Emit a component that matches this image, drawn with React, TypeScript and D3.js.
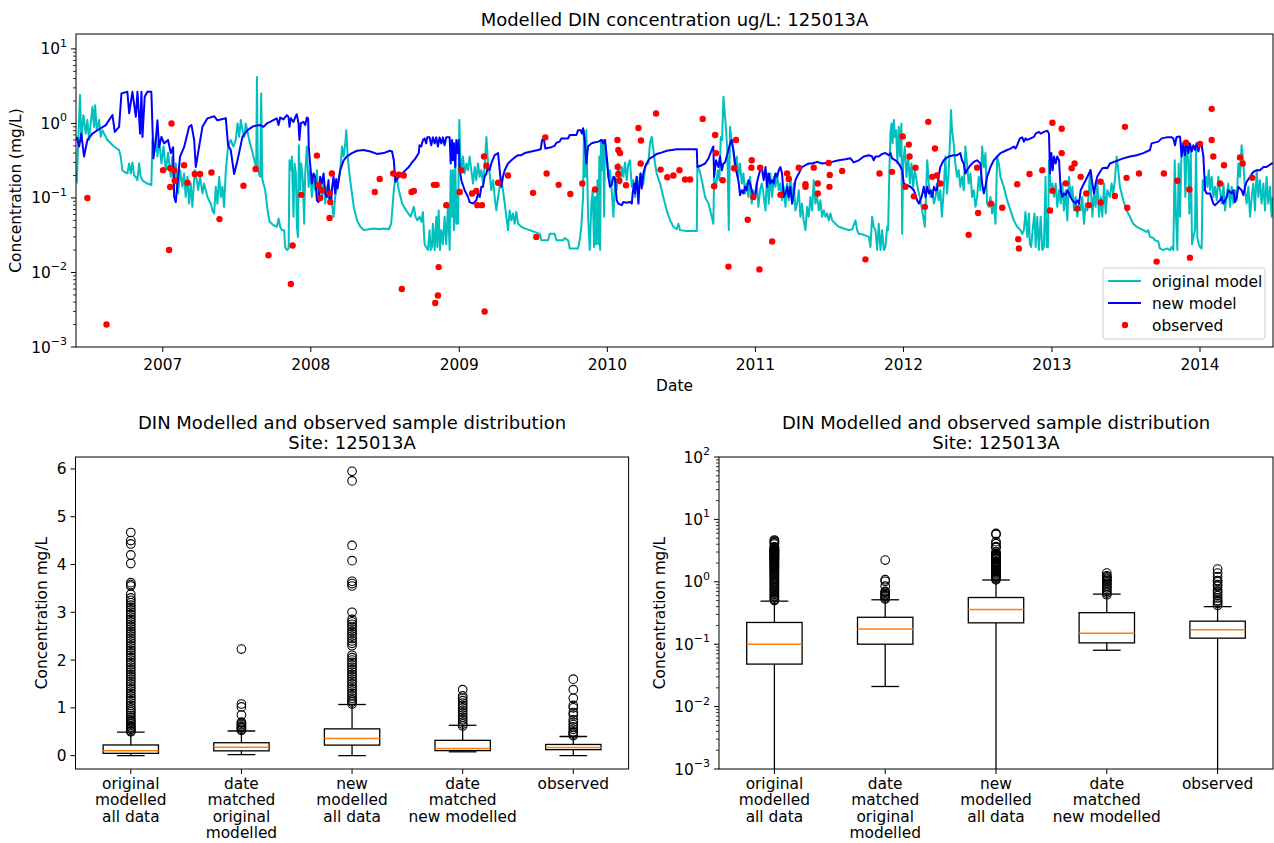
import React from 'react';
import * as d3 from 'd3';

// ---------- DATA (decimal year, mg/L) ----------
const origModel: [number, number][] = [
[2006.419,0.156],[2006.441,2.4],[2006.450,0.60],[2006.464,1.29],[2006.480,0.73],[2006.491,1.11],[2006.502,0.60],[2006.525,1.67],[2006.536,0.90],[2006.543,1.76],[2006.554,0.81],[2006.570,1.11],[2006.581,0.66],[2006.592,0.81],[2006.626,0.60],[2006.671,0.49],[2006.705,0.44],[2006.716,0.36],[2006.727,0.236],[2006.739,0.224],[2006.761,0.213],[2006.773,0.29],[2006.784,0.213],[2006.795,0.30],[2006.806,0.20],[2006.818,0.192],[2006.829,0.173],[2006.840,0.29],[2006.851,0.192],[2006.863,0.173],[2006.874,0.165],[2006.896,0.156],[2006.923,0.149],[2006.930,0.60],[2006.941,0.40],[2006.953,0.66],[2006.964,0.36],[2006.975,0.60],[2006.991,0.29],[2007.005,0.49],[2007.020,0.236],[2007.036,0.40],[2007.054,0.192],[2007.065,0.36],[2007.077,0.141],[2007.088,0.29],[2007.104,0.115],[2007.117,0.236],[2007.133,0.141],[2007.144,0.213],[2007.155,0.103],[2007.167,0.192],[2007.178,0.084],[2007.189,0.156],[2007.200,0.076],[2007.216,0.236],[2007.230,0.173],[2007.239,0.127],[2007.252,0.192],[2007.268,0.115],[2007.279,0.156],[2007.302,0.103],[2007.324,0.084],[2007.336,0.068],[2007.347,0.062],[2007.358,0.141],[2007.369,0.084],[2007.381,0.192],[2007.392,0.103],[2007.403,0.141],[2007.414,0.076],[2007.426,0.236],[2007.441,0.49],[2007.459,0.60],[2007.477,0.49],[2007.493,0.60],[2007.505,1.0],[2007.516,0.66],[2007.527,1.11],[2007.538,0.81],[2007.550,0.66],[2007.561,1.0],
[2007.586,0.57],[2007.602,0.44],[2007.624,0.29],[2007.631,0.236],[2007.636,4.2],[2007.642,0.236],[2007.658,0.192],[2007.665,2.53],[2007.672,0.18],[2007.692,0.127],[2007.708,0.068],[2007.721,0.048],[2007.748,0.043],[2007.771,0.041],[2007.782,0.053],[2007.793,0.041],[2007.804,0.037],[2007.820,0.037],[2007.827,0.022],[2007.838,0.020],[2007.850,0.021],[2007.856,0.32],[2007.865,0.236],[2007.872,0.36],[2007.883,0.056],[2007.890,0.29],[2007.899,0.213],[2007.906,0.041],[2007.913,0.030],[2007.919,0.51],[2007.928,0.127],[2007.935,0.29],[2007.946,0.173],[2007.955,0.045],[2007.962,0.213],[2007.973,0.49],[2007.985,0.141],[2007.996,0.236],[2008.007,0.103],[2008.018,0.192],[2008.029,0.127],[2008.041,0.236],[2008.052,0.093],[2008.063,0.173],[2008.074,0.103],[2008.086,0.156],[2008.097,0.084],[2008.108,0.141],[2008.119,0.103],[2008.131,0.127],[2008.142,0.084],[2008.153,0.056],[2008.164,0.103],[2008.176,0.141],[2008.187,0.173],[2008.198,0.236],[2008.210,0.49],[2008.221,0.36],[2008.232,0.54],[2008.239,0.81],[2008.248,0.36],[2008.262,0.192],[2008.277,0.115],[2008.289,0.076],[2008.311,0.050],[2008.334,0.041],[2008.356,0.037],[2008.390,0.038],[2008.424,0.039],[2008.457,0.038],[2008.491,0.039],[2008.525,0.038],[2008.541,0.045],[2008.559,0.127],[2008.570,0.192],[2008.581,0.173],[2008.593,0.127],[2008.604,0.103],[2008.615,0.084],[2008.627,0.076],[2008.649,0.065],[2008.672,0.056],[2008.683,0.065],[2008.694,0.076],[2008.705,0.056],[2008.717,0.050],
[2008.732,0.056],[2008.744,0.048],[2008.755,0.065],[2008.766,0.024],[2008.777,0.022],[2008.789,0.020],[2008.800,0.037],[2008.807,0.020],[2008.816,0.022],[2008.822,0.045],[2008.834,0.020],[2008.845,0.056],[2008.852,0.022],[2008.861,0.068],[2008.870,0.020],[2008.879,0.037],[2008.890,0.024],[2008.901,0.056],[2008.912,0.024],[2008.924,0.084],[2008.935,0.020],[2008.942,0.236],[2008.951,0.056],[2008.957,0.236],[2008.964,0.037],[2008.973,0.29],[2008.980,0.045],[2008.987,0.127],[2008.991,0.045],[2009.000,1.11],[2009.007,0.36],[2009.014,0.236],[2009.025,0.36],[2009.036,0.213],[2009.048,0.29],[2009.059,0.236],[2009.070,0.36],[2009.081,0.236],[2009.093,0.156],[2009.104,0.26],[2009.115,0.173],[2009.126,0.29],[2009.138,0.192],[2009.149,0.236],[2009.160,0.156],[2009.171,0.26],[2009.183,0.66],[2009.194,0.29],[2009.205,0.213],[2009.216,0.127],[2009.228,0.173],[2009.239,0.103],[2009.250,0.068],[2009.262,0.103],[2009.273,0.141],[2009.284,0.173],[2009.295,0.127],[2009.307,0.084],[2009.318,0.056],[2009.329,0.037],[2009.340,0.068],[2009.352,0.050],[2009.363,0.062],[2009.374,0.045],[2009.385,0.065],[2009.397,0.045],[2009.419,0.041],[2009.442,0.039],[2009.475,0.037],[2009.509,0.035],[2009.543,0.033],[2009.554,0.027],[2009.599,0.027],[2009.611,0.033],[2009.644,0.033],[2009.656,0.027],[2009.701,0.027],[2009.712,0.029],[2009.735,0.027],[2009.746,0.021],[2009.802,0.021],[2009.813,0.027],[2009.824,0.041],[2009.836,0.103],[2009.842,0.81],[2009.851,0.192],[2009.858,0.81],[2009.870,0.056],[2009.881,0.020],[2009.892,0.084],
[2009.901,0.127],[2009.910,0.022],[2009.917,0.103],[2009.924,0.024],[2009.933,0.173],[2009.939,0.024],[2009.946,0.36],[2009.951,0.020],[2009.957,0.60],[2009.964,0.236],[2009.973,0.60],[2009.978,0.056],[2009.984,0.60],[2009.991,0.36],[2010.000,0.29],[2010.007,0.192],[2010.018,0.236],[2010.029,0.127],[2010.041,0.056],[2010.052,0.192],[2010.063,0.127],[2010.074,0.29],[2010.086,0.156],[2010.097,0.26],[2010.108,0.192],[2010.119,0.30],[2010.131,0.173],[2010.142,0.29],[2010.153,0.32],[2010.165,0.141],[2010.176,0.173],[2010.187,0.103],[2010.198,0.192],[2010.210,0.127],[2010.221,0.213],[2010.232,0.141],[2010.243,0.156],[2010.255,0.26],[2010.266,0.29],[2010.277,0.29],[2010.288,0.54],[2010.300,0.66],[2010.311,0.44],[2010.322,0.29],[2010.333,0.213],[2010.356,0.156],[2010.378,0.103],[2010.401,0.068],[2010.424,0.050],[2010.446,0.041],[2010.469,0.038],[2010.480,0.045],[2010.491,0.037],[2010.536,0.036],[2010.604,0.036],[2010.608,0.26],[2010.622,0.236],[2010.638,0.173],[2010.660,0.103],[2010.683,0.084],[2010.705,0.056],[2010.716,0.045],[2010.721,0.192],[2010.734,0.141],[2010.746,0.236],[2010.757,0.173],[2010.766,0.66],[2010.775,0.60],[2010.784,2.28],[2010.795,1.23],[2010.802,0.81],[2010.811,0.40],[2010.820,0.037],[2010.829,0.90],[2010.840,0.54],[2010.851,0.44],[2010.863,0.236],[2010.874,0.36],[2010.885,0.192],[2010.896,0.29],[2010.908,0.156],[2010.919,0.213],[2010.930,0.115],[2010.941,0.156],[2010.953,0.103],[2010.964,0.192],[2010.975,0.084],[2010.986,0.127],[2010.998,0.103],[2011.009,0.156],[2011.020,0.076],[2011.032,0.127],[2011.043,0.156],[2011.054,0.115],
[2011.068,0.068],[2011.079,0.213],[2011.090,0.084],[2011.101,0.213],[2011.113,0.103],[2011.124,0.192],[2011.135,0.141],[2011.146,0.213],[2011.158,0.127],[2011.169,0.156],[2011.180,0.093],[2011.191,0.141],[2011.203,0.076],[2011.214,0.156],[2011.225,0.093],[2011.236,0.192],[2011.248,0.084],[2011.259,0.156],[2011.270,0.068],[2011.281,0.084],[2011.293,0.127],[2011.304,0.056],[2011.315,0.084],[2011.326,0.050],[2011.338,0.037],[2011.349,0.076],[2011.360,0.056],[2011.372,0.103],[2011.383,0.068],[2011.394,0.173],[2011.405,0.084],[2011.417,0.103],[2011.428,0.068],[2011.439,0.093],[2011.450,0.056],[2011.462,0.068],[2011.473,0.056],[2011.484,0.062],[2011.495,0.050],[2011.507,0.062],[2011.518,0.050],[2011.540,0.045],[2011.563,0.041],[2011.597,0.039],[2011.631,0.037],[2011.653,0.038],[2011.676,0.050],[2011.687,0.037],[2011.698,0.033],[2011.732,0.032],[2011.766,0.030],[2011.777,0.022],[2011.788,0.056],[2011.799,0.041],[2011.811,0.037],[2011.822,0.020],[2011.833,0.045],[2011.845,0.020],[2011.856,0.037],[2011.867,0.020],[2011.878,0.022],[2011.890,0.041],[2011.896,0.037],[2011.905,0.236],[2011.912,0.73],[2011.919,1.0],[2011.926,0.54],[2011.935,1.11],[2011.941,0.66],[2011.950,0.81],[2011.959,0.29],[2011.968,0.90],[2011.977,0.36],[2011.986,1.0],[2011.991,0.033],[2011.998,0.29],[2012.009,0.49],[2012.020,0.192],[2012.032,0.36],[2012.043,0.156],[2012.054,0.29],[2012.065,0.141],[2012.077,0.236],[2012.088,0.173],[2012.099,0.127],[2012.110,0.103],[2012.122,0.076],[2012.133,0.056],[2012.144,0.041],[2012.151,0.103],[2012.160,0.32],[2012.171,0.156],[2012.182,0.103],[2012.194,0.127],[2012.205,0.084],[2012.216,0.103],
[2012.225,0.156],[2012.237,0.093],[2012.248,0.127],[2012.259,0.056],[2012.271,0.127],[2012.282,0.36],[2012.293,0.115],[2012.304,0.213],[2012.316,0.81],[2012.320,1.51],[2012.327,0.81],[2012.338,0.54],[2012.349,0.29],[2012.361,0.192],[2012.372,0.236],[2012.383,0.141],[2012.394,0.192],[2012.406,0.127],[2012.417,0.49],[2012.428,0.29],[2012.439,0.156],[2012.451,0.213],[2012.462,0.103],[2012.473,0.127],[2012.485,0.076],[2012.496,0.103],[2012.507,0.192],[2012.518,0.127],[2012.530,0.49],[2012.541,0.26],[2012.552,0.40],[2012.563,0.084],[2012.575,0.076],[2012.586,0.103],[2012.597,0.062],[2012.608,0.084],[2012.620,0.045],[2012.631,0.36],[2012.642,0.29],[2012.653,0.192],[2012.676,0.141],[2012.698,0.093],[2012.721,0.068],[2012.743,0.050],[2012.766,0.041],[2012.788,0.037],[2012.800,0.033],[2012.811,0.037],[2012.822,0.065],[2012.834,0.030],[2012.845,0.062],[2012.851,0.024],[2012.860,0.022],[2012.874,0.045],[2012.883,0.062],[2012.890,0.022],[2012.901,0.056],[2012.912,0.020],[2012.924,0.056],[2012.935,0.020],[2012.946,0.022],[2012.957,0.192],[2012.964,0.022],[2012.973,0.022],[2012.980,0.32],[2012.991,0.141],[2013.003,0.156],[2013.014,0.103],[2013.025,0.156],[2013.036,0.076],[2013.048,0.127],[2013.059,0.084],[2013.070,0.156],[2013.081,0.068],[2013.093,0.127],[2013.104,0.050],[2013.115,0.192],[2013.126,0.103],[2013.138,0.141],[2013.149,0.068],[2013.160,0.103],[2013.171,0.056],[2013.183,0.084],[2013.194,0.068],[2013.205,0.103],[2013.216,0.045],[2013.228,0.084],[2013.239,0.068],[2013.250,0.127],[2013.257,0.236],[2013.266,0.103],[2013.273,0.056],[2013.284,0.115],[2013.295,0.076],[2013.306,0.173],[2013.318,0.056],[2013.329,0.103],[2013.340,0.056],[2013.352,0.156],[2013.363,0.062],[2013.374,0.127],
[2013.392,0.103],[2013.403,0.156],[2013.414,0.115],[2013.425,0.173],[2013.437,0.36],[2013.448,0.236],[2013.459,0.141],[2013.482,0.093],[2013.504,0.068],[2013.527,0.056],[2013.549,0.045],[2013.572,0.041],[2013.594,0.039],[2013.617,0.037],[2013.639,0.035],[2013.651,0.037],[2013.662,0.030],[2013.684,0.029],[2013.696,0.027],[2013.718,0.026],[2013.729,0.021],[2013.752,0.020],[2013.775,0.021],[2013.797,0.020],[2013.809,0.022],[2013.820,0.020],[2013.829,0.32],[2013.838,0.056],[2013.847,0.020],[2013.856,0.29],[2013.865,0.056],[2013.876,0.54],[2013.883,0.44],[2013.892,0.54],[2013.901,0.103],[2013.910,0.54],[2013.921,0.29],[2013.928,0.062],[2013.937,0.49],[2013.946,0.024],[2013.955,0.030],[2013.966,0.037],[2013.973,0.44],[2013.982,0.030],[2013.991,0.024],[2014.000,0.022],[2014.011,0.021],[2014.018,0.173],[2014.027,0.127],[2014.041,0.192],[2014.050,0.141],[2014.059,0.236],[2014.068,0.127],[2014.079,0.192],[2014.090,0.103],[2014.101,0.141],[2014.113,0.093],[2014.124,0.192],[2014.135,0.127],[2014.146,0.084],[2014.158,0.156],[2014.169,0.068],[2014.180,0.103],[2014.191,0.156],[2014.203,0.076],[2014.214,0.141],[2014.225,0.084],[2014.236,0.127],[2014.248,0.093],[2014.259,0.29],[2014.270,0.192],[2014.281,0.51],[2014.293,0.29],[2014.304,0.127],[2014.315,0.084],[2014.327,0.141],[2014.338,0.056],[2014.349,0.103],[2014.360,0.156],[2014.371,0.068],[2014.383,0.236],[2014.394,0.103],[2014.405,0.173],[2014.416,0.084],[2014.428,0.156],[2014.439,0.068],[2014.450,0.192],[2014.461,0.084],[2014.473,0.141],[2014.484,0.056],[2014.491,0.103]
];

const newModel: [number, number][] = [
[2006.419,0.66],[2006.435,0.49],[2006.450,0.73],[2006.468,0.36],[2006.491,0.60],[2006.525,0.73],[2006.559,0.81],[2006.615,0.95],[2006.660,1.30],[2006.676,0.77],[2006.705,0.90],[2006.721,2.53],[2006.761,2.66],[2006.773,1.37],[2006.795,2.66],[2006.818,1.23],[2006.829,2.66],[2006.847,0.73],[2006.856,2.66],[2006.863,0.66],[2006.878,2.28],[2006.896,2.66],[2006.923,2.66],[2006.937,0.34],[2006.953,0.60],[2006.964,1.10],[2006.975,0.48],[2006.991,0.66],[2007.009,0.54],[2007.036,0.60],[2007.054,0.40],[2007.070,0.48],[2007.077,0.103],[2007.088,0.088],[2007.099,0.156],[2007.117,0.36],[2007.144,0.48],[2007.178,0.90],[2007.194,0.95],[2007.212,0.60],[2007.223,0.26],[2007.245,0.48],[2007.268,0.90],[2007.302,1.17],[2007.347,1.25],[2007.369,1.10],[2007.426,1.17],[2007.441,0.51],[2007.459,0.44],[2007.482,0.21],[2007.505,0.32],[2007.538,0.66],[2007.572,0.81],
[2007.590,0.86],[2007.613,0.92],[2007.658,0.95],[2007.680,0.90],[2007.703,1.0],[2007.725,1.05],[2007.770,1.17],[2007.782,0.95],[2007.793,1.2],[2007.815,1.13],[2007.838,1.29],[2007.849,1.23],[2007.856,0.90],[2007.865,1.17],[2007.883,1.05],[2007.894,1.2],[2007.905,1.33],[2007.917,1.0],[2007.923,0.60],[2007.932,1.0],[2007.950,1.05],[2007.962,0.95],[2007.973,1.2],[2007.982,1.17],[2007.986,0.49],[2007.995,0.29],[2008.007,0.156],[2008.018,0.213],[2008.029,0.192],[2008.041,0.093],[2008.052,0.088],[2008.063,0.192],[2008.074,0.156],[2008.086,0.213],[2008.097,0.115],[2008.108,0.103],[2008.119,0.173],[2008.126,0.088],[2008.135,0.084],[2008.144,0.141],[2008.153,0.192],[2008.164,0.115],[2008.171,0.18],[2008.180,0.134],[2008.198,0.236],[2008.221,0.32],[2008.243,0.36],[2008.277,0.40],[2008.311,0.43],[2008.356,0.44],[2008.401,0.42],[2008.446,0.39],[2008.491,0.40],[2008.532,0.43],[2008.547,0.42],[2008.559,0.32],[2008.570,0.165],[2008.592,0.192],[2008.626,0.224],[2008.660,0.26],[2008.682,0.30],[2008.705,0.34],[2008.727,0.40],
[2008.732,0.51],[2008.744,0.49],[2008.755,0.60],[2008.766,0.63],[2008.777,0.54],[2008.784,0.65],[2008.800,0.65],[2008.811,0.51],[2008.822,0.65],[2008.834,0.54],[2008.845,0.65],[2008.856,0.49],[2008.867,0.65],[2008.879,0.54],[2008.890,0.65],[2008.901,0.51],[2008.912,0.65],[2008.935,0.65],[2008.942,0.29],[2008.951,0.60],[2008.957,0.32],[2008.964,0.54],[2008.973,0.26],[2008.980,0.60],[2008.987,0.40],[2008.996,0.60],[2009.003,0.236],[2009.014,0.173],[2009.036,0.127],[2009.059,0.103],[2009.070,0.088],[2009.093,0.084],[2009.115,0.093],[2009.126,0.115],[2009.138,0.103],[2009.149,0.141],[2009.160,0.141],[2009.171,0.192],[2009.183,0.213],[2009.194,0.26],[2009.205,0.236],[2009.216,0.29],[2009.239,0.375],[2009.262,0.40],[2009.273,0.236],[2009.284,0.141],[2009.295,0.192],[2009.307,0.236],[2009.329,0.29],[2009.352,0.32],[2009.374,0.35],[2009.397,0.375],[2009.419,0.375],[2009.442,0.40],[2009.487,0.42],[2009.532,0.44],[2009.550,0.45],[2009.559,0.60],[2009.572,0.60],[2009.581,0.46],[2009.622,0.48],[2009.644,0.50],[2009.656,0.55],[2009.678,0.57],[2009.689,0.63],[2009.735,0.63],[2009.746,0.70],[2009.791,0.70],[2009.802,0.81],[2009.820,0.81],[2009.829,0.73],[2009.836,0.86],[2009.847,0.60],[2009.858,0.29],[2009.870,0.49],[2009.892,0.54],
[2009.905,0.55],[2009.939,0.57],[2009.962,0.60],[2009.973,0.54],[2009.984,0.60],[2009.996,0.36],[2010.007,0.192],[2010.018,0.141],[2010.029,0.149],[2010.041,0.192],[2010.052,0.18],[2010.063,0.093],[2010.074,0.084],[2010.097,0.080],[2010.108,0.088],[2010.131,0.086],[2010.153,0.088],[2010.165,0.084],[2010.171,0.115],[2010.180,0.156],[2010.187,0.115],[2010.198,0.192],[2010.210,0.084],[2010.216,0.141],[2010.225,0.213],[2010.232,0.134],[2010.243,0.213],[2010.255,0.26],[2010.266,0.29],[2010.277,0.32],[2010.288,0.34],[2010.311,0.36],[2010.333,0.39],[2010.356,0.40],[2010.401,0.43],[2010.469,0.45],[2010.536,0.45],[2010.604,0.45],[2010.608,0.26],[2010.638,0.275],[2010.660,0.29],[2010.683,0.34],[2010.705,0.44],[2010.716,0.49],[2010.721,0.192],[2010.734,0.32],[2010.750,0.26],[2010.761,0.36],[2010.773,0.236],[2010.784,0.29],[2010.795,0.30],[2010.806,0.36],[2010.818,0.44],[2010.829,0.54],[2010.840,0.60],[2010.851,0.44],[2010.863,0.29],[2010.874,0.213],[2010.885,0.173],[2010.896,0.109],[2010.908,0.127],[2010.919,0.115],[2010.930,0.141],[2010.941,0.127],[2010.953,0.173],[2010.964,0.156],[2010.975,0.127],[2010.986,0.103],[2010.998,0.103],[2011.009,0.156],[2011.020,0.192],[2011.032,0.236],[2011.043,0.26],
[2011.056,0.173],[2011.068,0.26],[2011.079,0.141],[2011.090,0.213],[2011.101,0.156],[2011.113,0.173],[2011.124,0.156],[2011.135,0.213],[2011.146,0.192],[2011.158,0.236],[2011.169,0.26],[2011.180,0.213],[2011.191,0.103],[2011.203,0.115],[2011.214,0.141],[2011.225,0.103],[2011.236,0.141],[2011.248,0.084],[2011.259,0.115],[2011.270,0.173],[2011.281,0.192],[2011.293,0.213],[2011.304,0.236],[2011.315,0.26],[2011.338,0.275],[2011.360,0.29],[2011.383,0.29],[2011.417,0.305],[2011.450,0.29],[2011.484,0.295],[2011.518,0.305],[2011.563,0.32],[2011.608,0.33],[2011.642,0.34],[2011.664,0.30],[2011.698,0.32],[2011.732,0.36],[2011.766,0.375],[2011.788,0.36],[2011.799,0.32],[2011.811,0.36],[2011.833,0.36],[2011.856,0.39],[2011.878,0.40],[2011.901,0.375],[2011.912,0.40],[2011.923,0.34],[2011.946,0.32],[2011.968,0.29],[2011.991,0.236],[2012.002,0.156],[2012.025,0.149],[2012.047,0.141],[2012.070,0.127],[2012.092,0.093],[2012.104,0.084],[2012.122,0.103],[2012.137,0.141],[2012.149,0.103],[2012.160,0.141],[2012.171,0.115],[2012.182,0.127],[2012.194,0.103],[2012.205,0.141],[2012.216,0.127],
[2012.225,0.127],[2012.237,0.192],[2012.248,0.26],[2012.271,0.32],[2012.304,0.36],[2012.338,0.375],[2012.361,0.375],[2012.383,0.40],[2012.394,0.32],[2012.406,0.29],[2012.417,0.213],[2012.428,0.236],[2012.451,0.275],[2012.473,0.305],[2012.496,0.32],[2012.507,0.305],[2012.518,0.29],[2012.530,0.156],[2012.541,0.115],[2012.552,0.141],[2012.563,0.192],[2012.586,0.26],[2012.608,0.32],[2012.631,0.36],[2012.653,0.40],[2012.687,0.43],[2012.721,0.46],[2012.743,0.49],[2012.755,0.46],[2012.766,0.51],[2012.784,0.63],[2012.800,0.65],[2012.811,0.57],[2012.822,0.63],[2012.834,0.60],[2012.856,0.63],[2012.879,0.66],[2012.890,0.73],[2012.912,0.77],[2012.924,0.73],[2012.946,0.77],[2012.969,0.80],[2012.980,0.73],[2012.987,0.213],[2012.996,0.40],[2013.005,0.236],[2013.014,0.36],[2013.025,0.29],[2013.036,0.36],[2013.048,0.32],[2013.059,0.127],[2013.070,0.103],[2013.081,0.115],[2013.093,0.109],[2013.104,0.127],[2013.115,0.115],[2013.126,0.103],[2013.138,0.093],[2013.149,0.088],[2013.160,0.084],[2013.171,0.093],[2013.183,0.084],[2013.194,0.127],[2013.205,0.141],[2013.216,0.156],[2013.228,0.173],[2013.239,0.192],[2013.250,0.213],[2013.261,0.236],[2013.273,0.156],[2013.284,0.115],[2013.295,0.156],[2013.306,0.192],[2013.318,0.213],[2013.340,0.25],[2013.363,0.255],[2013.374,0.25],
[2013.392,0.29],[2013.437,0.315],[2013.482,0.34],[2013.527,0.36],[2013.572,0.375],[2013.617,0.40],[2013.662,0.44],[2013.673,0.54],[2013.718,0.57],[2013.741,0.63],[2013.775,0.65],[2013.809,0.65],[2013.820,0.63],[2013.831,0.51],[2013.842,0.66],[2013.865,0.67],[2013.876,0.36],[2013.887,0.54],[2013.898,0.375],[2013.910,0.57],[2013.921,0.40],[2013.932,0.54],[2013.944,0.42],[2013.955,0.51],[2013.966,0.44],[2013.977,0.54],[2013.989,0.42],[2014.000,0.54],[2014.011,0.51],[2014.023,0.36],[2014.034,0.127],[2014.045,0.115],[2014.068,0.115],[2014.090,0.084],[2014.101,0.080],[2014.113,0.084],[2014.135,0.093],[2014.146,0.103],[2014.158,0.084],[2014.180,0.103],[2014.191,0.127],[2014.214,0.115],[2014.225,0.127],[2014.236,0.088],[2014.248,0.103],[2014.259,0.141],[2014.281,0.127],[2014.293,0.109],[2014.304,0.141],[2014.315,0.165],[2014.338,0.192],[2014.360,0.224],[2014.383,0.236],[2014.405,0.236],[2014.428,0.26],[2014.450,0.26],[2014.473,0.28],[2014.491,0.295]
];

const observed: [number, number][] = [
[2006.491,0.10],[2006.620,0.002],[2007.002,0.236],[2007.043,0.020],[2007.050,0.25],[2007.050,0.14],[2007.059,1.0],[2007.077,0.236],[2007.081,0.17],[2007.144,0.275],[2007.167,0.16],[2007.216,0.21],[2007.252,0.21],[2007.329,0.22],[2007.383,0.052],[2007.545,0.146],[2007.627,0.245],[2007.714,0.017],[2007.865,0.007],[2007.877,0.023],[2007.935,0.11],[2008.041,0.37],[2008.052,0.148],[2008.063,0.10],[2008.074,0.127],[2008.126,0.115],[2008.131,0.088],[2008.126,0.054],[2008.142,0.213],[2008.431,0.12],[2008.464,0.18],[2008.555,0.213],[2008.593,0.205],[2008.613,0.006],[2008.626,0.20],[2008.678,0.12],[2008.694,0.124],[2008.829,0.15],[2008.838,0.0039],[2008.847,0.15],[2008.856,0.0049],[2008.861,0.0118],[2008.912,0.08],[2009.003,0.12],[2009.014,0.236],[2009.086,0.115],[2009.115,0.124],[2009.122,0.08],[2009.153,0.08],[2009.167,0.36],[2009.171,0.003],[2009.183,0.27],[2009.262,0.16],[2009.329,0.20],[2009.498,0.117],[2009.520,0.03],[2009.581,0.65],[2009.590,0.213],[2009.671,0.15],[2009.750,0.113],[2009.831,0.156],[2009.917,0.13],[2010.068,0.60],[2010.070,0.26],[2010.074,0.44],[2010.074,0.21],[2010.081,0.17],[2010.086,0.40],[2010.126,0.148],[2010.210,0.87],[2010.225,0.29],[2010.227,0.59],[2010.329,1.36],[2010.360,0.24],[2010.405,0.19],[2010.446,0.20],[2010.487,0.236],[2010.525,0.177],[2010.559,0.177],[2010.644,1.15],[2010.721,0.144],[2010.728,0.70],[2010.734,0.40],[2010.779,0.173],[2010.818,0.012],[2010.856,0.25],[2010.869,0.60],[2010.948,0.051],[2010.973,0.255],[2010.975,0.32],[2010.986,0.103],[2011.027,0.011],[2011.032,0.255],[2011.113,0.026],[2011.169,0.11],[2011.214,0.213],[2011.225,0.18],[2011.293,0.255],[2011.338,0.153],[2011.338,0.141],[2011.394,0.255],[2011.421,0.156],[2011.421,0.115],[2011.495,0.295],[2011.500,0.141],[2011.502,0.204],[2011.586,0.23],[2011.743,0.015],[2011.838,0.213],[2011.923,0.224],[2011.995,0.67],[2012.013,0.141],[2012.036,0.52],[2012.041,0.36],[2012.070,0.105],[2012.081,0.255],[2012.144,0.076],[2012.167,1.05],[2012.194,0.192],[2012.212,0.46],[2012.225,0.20],[2012.248,0.156],[2012.439,0.032],[2012.496,0.255],[2012.503,0.063],[2012.590,0.084],[2012.665,0.074],[2012.766,0.153],[2012.773,0.028],[2012.777,0.021],[2012.849,0.21],[2012.935,0.236],[2012.987,0.068],[2013.003,1.02],[2013.003,0.125],[2013.066,0.85],[2013.066,0.40],[2013.093,0.157],[2013.133,0.25],[2013.153,0.29],[2013.171,0.072],[2013.194,0.192],[2013.232,0.115],[2013.250,0.08],[2013.329,0.165],[2013.329,0.087],[2013.425,0.106],[2013.493,0.90],[2013.504,0.186],[2013.509,0.074],[2013.588,0.213],[2013.707,0.014],[2013.756,0.213],[2013.847,0.17],[2013.905,0.55],[2013.928,0.13],[2013.932,0.0158],[2014.000,0.53],[2014.079,1.57],[2014.079,0.60],[2014.090,0.36],[2014.135,0.156],[2014.162,0.275],[2014.270,0.35],[2014.288,0.29],[2014.353,0.186]
];

const yearTicks = [2007, 2008, 2009, 2010, 2011, 2012, 2013, 2014];

// ---------- Box plot data ----------
const boxLabels: string[][] = [
  ['original', 'modelled', 'all data'],
  ['date', 'matched', 'original', 'modelled'],
  ['new', 'modelled', 'all data'],
  ['date', 'matched', 'new modelled'],
  ['observed'],
];
const boxLow = [0, 0.021, 0, 0.08, 0];
const boxQ1 = [0.048, 0.10, 0.22, 0.105, 0.125];
const boxMedian = [0.10, 0.175, 0.36, 0.15, 0.17];
const boxQ3 = [0.223, 0.27, 0.56, 0.32, 0.234];
const boxHigh = [0.49, 0.515, 1.07, 0.635, 0.40];

const fliersOrigAll = [0.5,0.52,0.55,0.58,0.6,0.63,0.66,0.7,0.73,0.76,0.8,0.84,0.88,0.92,0.96,1.0,1.05,1.1,1.15,1.2,1.25,1.3,1.35,1.4,1.45,1.5,1.55,1.6,1.65,1.7,1.75,1.8,1.85,1.9,1.95,2.0,2.05,2.1,2.15,2.2,2.25,2.3,2.35,2.4,2.45,2.5,2.55,2.6,2.65,2.7,2.75,2.8,2.85,2.9,2.95,3.0,3.05,3.1,3.15,3.2,3.25,3.3,3.38,3.55,3.58,3.62,4.02,4.2,4.43,4.5,4.67];
const fliersDateOrig = [0.53,0.55,0.58,0.6,0.62,0.65,0.68,0.7,0.85,1.02,1.08,2.23];
const fliersNewAll = [1.08,1.12,1.16,1.2,1.25,1.3,1.35,1.4,1.45,1.5,1.55,1.6,1.65,1.7,1.75,1.8,1.85,1.9,1.95,2.0,2.05,2.1,2.3,2.35,2.4,2.45,2.5,2.55,2.6,2.65,2.7,2.75,2.8,2.85,3.0,3.55,3.6,3.65,4.08,4.4,5.75,5.95];
const fliersDateNew = [0.62,0.66,0.7,0.75,0.8,0.85,0.9,0.95,1.0,1.05,1.1,1.15,1.2,1.25,1.38];
const fliersObs = [0.42,0.45,0.48,0.5,0.55,0.6,0.65,0.7,0.75,0.85,0.9,1.0,1.05,1.2,1.38,1.6];
const boxFliers = [fliersOrigAll, fliersDateOrig, fliersNewAll, fliersDateNew, fliersObs];

const linearTicks = [0, 1, 2, 3, 4, 5, 6];

// ---------- helpers ----------
const FONT = "'DejaVu Sans', sans-serif";
const FS = 15.4;   // tick / label font size
const FT = 18;     // title font size
const yearToDate = (y: number) => {
  const yr = Math.floor(y);
  const s = Date.UTC(yr, 0, 1);
  const e = Date.UTC(yr + 1, 0, 1);
  return new Date(s + (y - yr) * (e - s));
};
const supText = (e: number) => (e < 0 ? '\u2212' + Math.abs(e) : String(e));

function LogTickLabel({ x, y, e }: { x: number; y: number; e: number }) {
  return (
    <text x={x} y={y + 5.5} textAnchor="end" fontSize={FS} fontFamily={FONT} fill="#000">
      10<tspan dy={-7.5} fontSize={11}>{supText(e)}</tspan>
    </text>
  );
}

function logMinors(lo: number, hi: number) {
  const out: number[] = [];
  for (let k = lo; k <= hi; k++) {
    for (let m = 2; m <= 9; m++) out.push(m * Math.pow(10, k));
  }
  return out;
}

// ---------- Top chart ----------
function TopChart() {
  const L = 76, R = 1273, T = 34, B = 347;
  const x = d3.scaleUtc().domain([yearToDate(2006.414), yearToDate(2014.493)]).range([L, R]);
  const y = d3.scaleLog().domain([1e-3, Math.pow(10, 1.2)]).range([B, T]);
  const line = d3.line<[number, number]>().x(d => x(yearToDate(d[0]))).y(d => y(d[1]));
  const majors = [-3, -2, -1, 0, 1];
  const minors = logMinors(-3, 1).filter(v => v <= Math.pow(10, 1.2));
  return (
    <g>
      <defs>
        <clipPath id="clipTop"><rect x={L} y={T} width={R - L} height={B - T} /></clipPath>
      </defs>
      <text x={(L + R) / 2} y={25.5} textAnchor="middle" fontSize={FT} fontFamily={FONT} fill="#000">
        Modelled DIN concentration ug/L: 125013A
      </text>
      <g clipPath="url(#clipTop)">
        <path d={line(origModel) || ''} fill="none" stroke="#00bfbf" strokeWidth={2} strokeLinejoin="round" />
        <path d={line(newModel) || ''} fill="none" stroke="#0000ff" strokeWidth={2} strokeLinejoin="round" />
        {observed.map((d, i) => (
          <circle key={i} cx={x(yearToDate(d[0]))} cy={y(d[1])} r={3.2} fill="#ff0000" />
        ))}
      </g>
      <rect x={L} y={T} width={R - L} height={B - T} fill="none" stroke="#000" strokeWidth={1} />
      {majors.map(e => (
        <g key={e}>
          <line x1={L - 5} x2={L} y1={y(Math.pow(10, e))} y2={y(Math.pow(10, e))} stroke="#000" />
          <LogTickLabel x={L - 9} y={y(Math.pow(10, e))} e={e} />
        </g>
      ))}
      {minors.map((v, i) => (
        <line key={i} x1={L - 3} x2={L} y1={y(v)} y2={y(v)} stroke="#000" strokeWidth={0.8} />
      ))}
      {yearTicks.map(yr => {
        const px = x(yearToDate(yr));
        return (
          <g key={yr}>
            <line x1={px} x2={px} y1={B} y2={B + 5} stroke="#000" />
            <text x={px} y={B + 23} textAnchor="middle" fontSize={FS} fontFamily={FONT} fill="#000">{yr}</text>
          </g>
        );
      })}
      <text x={(L + R) / 2} y={390.5} textAnchor="middle" fontSize={FS} fontFamily={FONT} fill="#000">Date</text>
      <text transform={`translate(21,${(T + B) / 2}) rotate(-90)`} textAnchor="middle" fontSize={FS} fontFamily={FONT} fill="#000">
        Concentration (mg/L)
      </text>
      {/* legend */}
      <g>
        <rect x={1103} y={268} width={162} height={71} rx={3} fill="#fff" fillOpacity={0.8} stroke="#cccccc" />
        <line x1={1108} x2={1141} y1={281} y2={281} stroke="#00bfbf" strokeWidth={2} />
        <text x={1152} y={286.5} fontSize={FS} fontFamily={FONT} fill="#000">original model</text>
        <line x1={1108} x2={1141} y1={303} y2={303} stroke="#0000ff" strokeWidth={2} />
        <text x={1152} y={308.5} fontSize={FS} fontFamily={FONT} fill="#000">new model</text>
        <circle cx={1125} cy={325} r={3.2} fill="#ff0000" />
        <text x={1152} y={330.5} fontSize={FS} fontFamily={FONT} fill="#000">observed</text>
      </g>
    </g>
  );
}

// ---------- Box charts ----------
function BoxChart({ L, R, log, id }: { L: number; R: number; log: boolean; id: string }) {
  const T = 457, B = 769;
  const x = d3.scaleLinear().domain([0.5, 5.5]).range([L, R]);
  const y: any = log
    ? d3.scaleLog().domain([1e-3, 1e2]).range([B, T])
    : d3.scaleLinear().domain([-0.28, 6.25]).range([B, T]);
  const yy = (v: number) => (log && v <= 0 ? B + 20 : y(v));
  const hw = x(1.25) - x(1);
  const cw = x(1.125) - x(1);
  const cx = (L + R) / 2;
  return (
    <g>
      <defs>
        <clipPath id={id}><rect x={L} y={T} width={R - L} height={B - T} /></clipPath>
      </defs>
      <text x={cx} y={428.5} textAnchor="middle" fontSize={FT} fontFamily={FONT} fill="#000">
        DIN Modelled and observed sample distribution
      </text>
      <text x={cx} y={448.5} textAnchor="middle" fontSize={FT} fontFamily={FONT} fill="#000">Site: 125013A</text>
      <g clipPath={`url(#${id})`}>
        {boxQ1.map((_, i) => {
          const px = x(i + 1);
          return (
            <g key={i} stroke="#000" strokeWidth={1.3} fill="none">
              <rect x={px - hw} y={y(boxQ3[i])} width={2 * hw} height={y(boxQ1[i]) - y(boxQ3[i])} />
              <line x1={px} x2={px} y1={y(boxQ1[i])} y2={yy(boxLow[i])} />
              <line x1={px} x2={px} y1={y(boxQ3[i])} y2={y(boxHigh[i])} />
              {!(log && boxLow[i] <= 0) && <line x1={px - cw} x2={px + cw} y1={y(boxLow[i])} y2={y(boxLow[i])} />}
              <line x1={px - cw} x2={px + cw} y1={y(boxHigh[i])} y2={y(boxHigh[i])} />
              <line x1={px - hw} x2={px + hw} y1={y(boxMedian[i])} y2={y(boxMedian[i])} stroke="#ff7f0e" strokeWidth={1.5} />
              {boxFliers[i].map((v, j) => (
                <circle key={j} cx={px} cy={y(v)} r={4.3} strokeWidth={1.1} />
              ))}
            </g>
          );
        })}
      </g>
      <rect x={L} y={T} width={R - L} height={B - T} fill="none" stroke="#000" strokeWidth={1} />
      {log ? (
        <g>
          {[-3, -2, -1, 0, 1, 2].map(e => (
            <g key={e}>
              <line x1={L - 5} x2={L} y1={y(Math.pow(10, e))} y2={y(Math.pow(10, e))} stroke="#000" />
              <LogTickLabel x={L - 9} y={y(Math.pow(10, e))} e={e} />
            </g>
          ))}
          {logMinors(-3, 1).map((v, i) => (
            <line key={i} x1={L - 3} x2={L} y1={y(v)} y2={y(v)} stroke="#000" strokeWidth={0.8} />
          ))}
        </g>
      ) : (
        <g>
          {linearTicks.map(t => (
            <g key={t}>
              <line x1={L - 5} x2={L} y1={y(t)} y2={y(t)} stroke="#000" />
              <text x={L - 9} y={y(t) + 5.5} textAnchor="end" fontSize={FS} fontFamily={FONT} fill="#000">{t}</text>
            </g>
          ))}
        </g>
      )}
      {boxLabels.map((lines, i) => {
        const px = x(i + 1);
        return (
          <g key={i}>
            <line x1={px} x2={px} y1={B} y2={B + 5} stroke="#000" />
            <text textAnchor="middle" fontSize={FS} fontFamily={FONT} fill="#000">
              {lines.map((s, k) => (
                <tspan key={k} x={px} y={789 + k * 16.3}>{s}</tspan>
              ))}
            </text>
          </g>
        );
      })}
      <text transform={`translate(${L - (log ? 54 : 29)},${(T + B) / 2}) rotate(-90)`} textAnchor="middle" fontSize={FS} fontFamily={FONT} fill="#000">
        Concentration mg/L
      </text>
    </g>
  );
}

export default function App() {
  return (
    <svg width={1274} height={843} style={{ position: 'absolute', left: 0, top: 0, background: '#fff' }}>
      <rect x={0} y={0} width={1274} height={843} fill="#fff" />
      <TopChart />
      <BoxChart L={75.5} R={628.6} log={false} id="clipBL" />
      <BoxChart L={719} R={1273} log={true} id="clipBR" />
    </svg>
  );
}
